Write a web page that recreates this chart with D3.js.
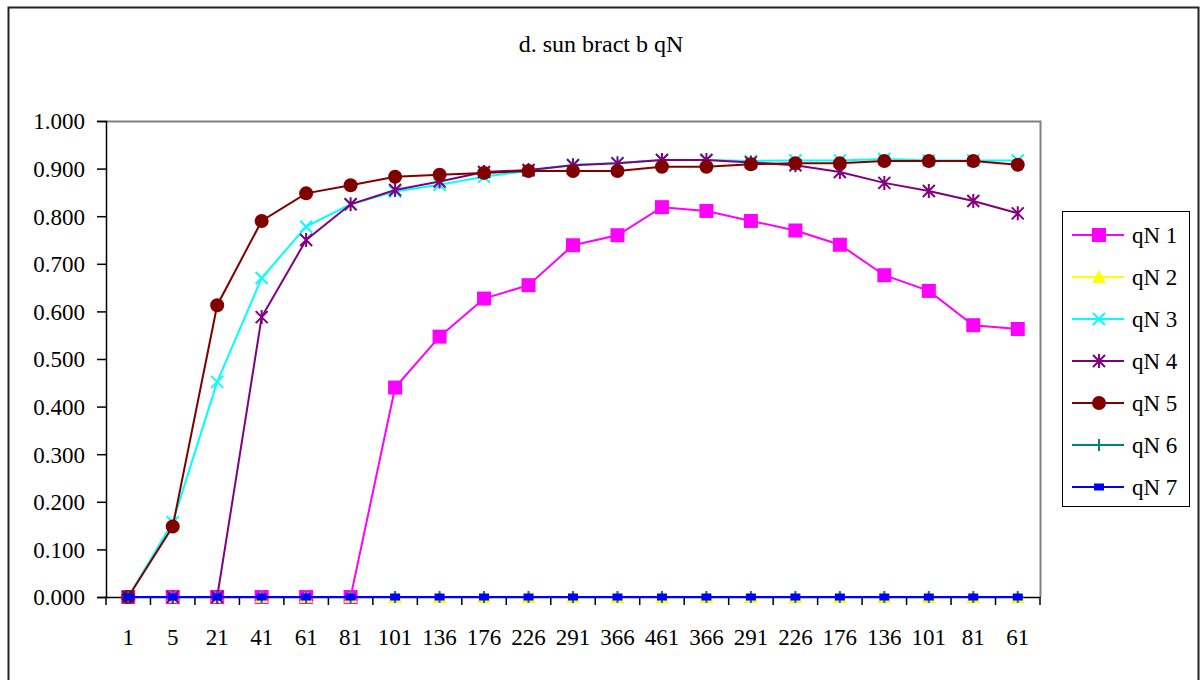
<!DOCTYPE html>
<html>
<head>
<meta charset="utf-8">
<script src="https://cdn.jsdelivr.net/npm/d3@7"></script>
<style>
  body { margin: 0; background: #fff; }
  svg text { font-family: 'Liberation Serif', 'Times New Roman', Times, 'DejaVu Serif', serif !important; }
</style>
</head>
<body>
<svg id="chart" width="1202" height="680"></svg>
<script>
// categories along the x axis
const categories = ['1', '5', '21', '41', '61', '81', '101', '136', '176', '226', '291',
  '366', '461', '366', '291', '226', '176', '136', '101', '81', '61'];

// series values
const qN1 = [0, 0, 0, 0, 0, 0, 0.440, 0.547, 0.627, 0.655, 0.739, 0.760, 0.819, 0.811,
  0.790, 0.770, 0.740, 0.676, 0.643, 0.571, 0.563];
const qN2 = [0, 0, 0, 0, 0, 0, 0, 0, 0, 0, 0, 0, 0, 0, 0, 0, 0, 0, 0, 0, 0];
const qN3 = [0, 0.157, 0.452, 0.670, 0.778, 0.825, 0.852, 0.866, 0.883, 0.895, 0.908,
  0.912, 0.918, 0.918, 0.916, 0.917, 0.917, 0.920, 0.917, 0.917, 0.917];
const qN4 = [0, 0, 0, 0.588, 0.750, 0.825, 0.855, 0.873, 0.893, 0.897, 0.907, 0.911,
  0.918, 0.918, 0.913, 0.907, 0.893, 0.870, 0.853, 0.832, 0.806];
const qN5 = [0, 0.148, 0.613, 0.790, 0.848, 0.865, 0.883, 0.887, 0.891, 0.895, 0.895,
  0.895, 0.904, 0.904, 0.909, 0.911, 0.911, 0.916, 0.916, 0.916, 0.908];
const qN6 = [0, 0, 0, 0, 0, 0, 0, 0, 0, 0, 0, 0, 0, 0, 0, 0, 0, 0, 0, 0, 0];
const qN7 = [0, 0, 0, 0, 0, 0, 0, 0, 0, 0, 0, 0, 0, 0, 0, 0, 0, 0, 0, 0, 0];

const yTicks = [0, 0.1, 0.2, 0.3, 0.4, 0.5, 0.6, 0.7, 0.8, 0.9, 1.0];
const title = 'd. sun bract b qN';

const series = [
  { name: 'qN 1', values: qN1, color: '#ff00ff', marker: 'square' },
  { name: 'qN 2', values: qN2, color: '#ffff00', marker: 'triangle' },
  { name: 'qN 3', values: qN3, color: '#00ffff', marker: 'x' },
  { name: 'qN 4', values: qN4, color: '#800080', marker: 'star' },
  { name: 'qN 5', values: qN5, color: '#800000', marker: 'circle' },
  { name: 'qN 6', values: qN6, color: '#008080', marker: 'plus' },
  { name: 'qN 7', values: qN7, color: '#0000ff', marker: 'dash' }
];

const serif = "'Liberation Serif', 'Times New Roman', Times, 'DejaVu Serif', serif";
const svg = d3.select('#chart').attr('font-family', serif);
const plot = { left: 106, top: 121, right: 1040, bottom: 597 };

// outer frame
svg.append('rect')
  .attr('x', 8.5).attr('y', 7.5)
  .attr('width', 1190).attr('height', 700)
  .attr('fill', '#fff')
  .attr('stroke', '#222')
  .attr('stroke-width', 2);

svg.append('text')
  .attr('x', 601).attr('y', 52)
  .attr('text-anchor', 'middle')
  .attr('font-size', 24)
  .text(title);

const x = d3.scaleBand().domain(d3.range(categories.length))
  .range([plot.left, plot.right]).padding(0);
const y = d3.scaleLinear().domain([0, 1]).range([plot.bottom, plot.top]);
const cx = i => x(i) + x.bandwidth() / 2;

// plot area border (top/right gray)
svg.append('path')
  .attr('d', `M${plot.left},${plot.top + 0.5}H${plot.right + 0.5}V${plot.bottom}`)
  .attr('fill', 'none')
  .attr('stroke', '#808080')
  .attr('stroke-width', 2);

// y axis
const yAxis = svg.append('g')
  .attr('transform', `translate(${plot.left},0)`)
  .call(d3.axisLeft(y).tickValues(yTicks).tickFormat(d3.format('.3f'))
    .tickSize(9).tickPadding(12))
  .attr('font-family', serif)
  .attr('font-size', 23);
yAxis.select('.domain').attr('stroke', '#000').attr('stroke-width', 1.5);
yAxis.selectAll('.tick line').attr('stroke', '#000').attr('stroke-width', 1.5);
yAxis.selectAll('.tick text').attr('fill', '#000').attr('dy', '0.34em');

// x axis: labels under the categories, ticks at the band edges
const xAxis = svg.append('g')
  .attr('transform', `translate(0,${plot.bottom})`)
  .call(d3.axisBottom(x).tickFormat(i => categories[i]).tickSize(0).tickPadding(32))
  .attr('font-family', serif)
  .attr('font-size', 23);
xAxis.select('.domain').attr('stroke', '#000').attr('stroke-width', 1.5);
xAxis.selectAll('.tick text').attr('fill', '#000');
xAxis.selectAll('.edge')
  .data(d3.range(categories.length + 1))
  .enter().append('line')
  .attr('x1', i => i < categories.length ? x(i) : plot.right)
  .attr('x2', i => i < categories.length ? x(i) : plot.right)
  .attr('y1', 0).attr('y2', 8)
  .attr('stroke', '#000')
  .attr('stroke-width', 1.5);

function drawMarker(g, type, color) {
  if (type === 'square') {
    g.append('rect').attr('x', -7).attr('y', -7).attr('width', 14).attr('height', 14)
      .attr('fill', color);
  } else if (type === 'triangle') {
    g.append('path').attr('d', 'M0,-7L7,6L-7,6Z').attr('fill', color);
  } else if (type === 'x') {
    g.append('path').attr('d', 'M-6,-6L6,6M-6,6L6,-6')
      .attr('stroke', color).attr('stroke-width', 2);
  } else if (type === 'star') {
    g.append('path').attr('d', 'M-6,-6L6,6M-6,6L6,-6M0,-7V7')
      .attr('stroke', color).attr('stroke-width', 2);
  } else if (type === 'circle') {
    g.append('circle').attr('r', 7).attr('fill', color);
  } else if (type === 'plus') {
    g.append('path').attr('d', 'M-6,0H6M0,-6V6')
      .attr('stroke', color).attr('stroke-width', 2);
  } else if (type === 'dash') {
    g.append('rect').attr('x', -5).attr('y', -3.5).attr('width', 10).attr('height', 7)
      .attr('fill', color);
  }
}

const line = d3.line().x((d, i) => cx(i)).y(d => y(d));

series.forEach(s => {
  const g = svg.append('g');
  g.append('path')
    .attr('d', line(s.values))
    .attr('fill', 'none')
    .attr('stroke', s.color)
    .attr('stroke-width', 2);
  s.values.forEach((v, i) => {
    const m = g.append('g').attr('transform', `translate(${cx(i)},${y(v)})`);
    drawMarker(m, s.marker, s.color);
  });
});

// legend
const legend = svg.append('g');
legend.append('rect')
  .attr('x', 1062.5).attr('y', 211.5)
  .attr('width', 127).attr('height', 295)
  .attr('fill', '#fff')
  .attr('stroke', '#000')
  .attr('stroke-width', 1);
series.forEach((s, i) => {
  const ly = 235 + i * 42;
  const row = legend.append('g');
  row.append('line')
    .attr('x1', 1072).attr('x2', 1124)
    .attr('y1', ly).attr('y2', ly)
    .attr('stroke', s.color).attr('stroke-width', 2);
  drawMarker(row.append('g').attr('transform', `translate(1099,${ly})`), s.marker, s.color);
  row.append('text')
    .attr('x', 1132).attr('y', ly)
    .attr('dy', '0.34em')
    .attr('font-size', 23)
    .text(s.name);
});
</script>
</body>
</html>
